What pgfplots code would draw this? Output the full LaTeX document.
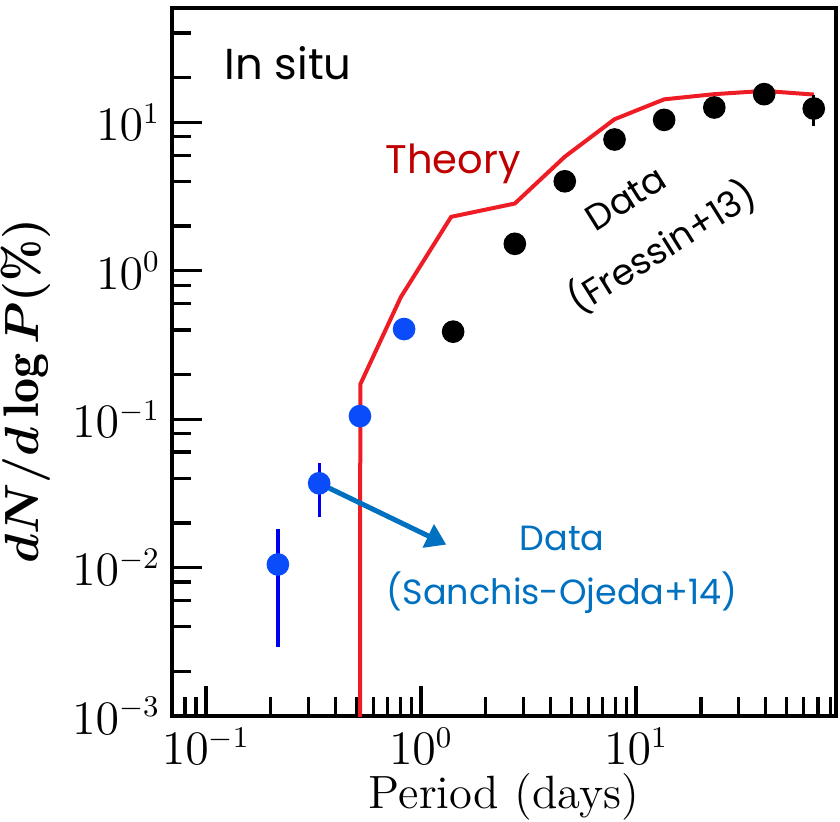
\documentclass[border=0pt]{standalone}
\usepackage{fontspec}
\newfontfamily\gothic{Poppins}
\usepackage{pgfplots}
\pgfplotsset{compat=1.18}
\usetikzlibrary{arrows.meta}
\definecolor{theoryred}{HTML}{EE1C25}
\definecolor{theorytext}{HTML}{C00000}
\definecolor{sanchisblue}{HTML}{0A4BFA}
\definecolor{errblue}{HTML}{0000F0}
\definecolor{notebblue}{HTML}{0070C0}

\begin{document}
\begin{tikzpicture}
\begin{axis}[
  scale only axis, width=199.2pt, height=212.4pt,
  xmode=log, ymode=log,
  xmin=0.0695, xmax=85, ymin=1e-3, ymax=59,
  xtick={0.1,1,10}, ytick={1e-3,1e-2,1e-1,1,10},
  minor xtick={0.07,0.08,0.09,0.2,0.3,0.4,0.5,0.6,0.7,0.8,0.9,2,3,4,5,6,7,8,9,20,30,40,50,60,70,80},
  minor ytick={2e-3,4e-3,6e-3,8e-3,2e-2,4e-2,6e-2,8e-2,0.2,0.4,0.6,0.8,2,4,6,8,20,40},
  tick pos=left,
  major tick length=9pt, minor tick length=5.7pt,
  tick style={black, line width=1pt},
  axis line style={line width=1.2pt},
  tick label style={font=\fontsize{13.5}{16}\selectfont},
  xlabel={Period (days)},
  xlabel style={font=\fontsize{14}{16}\selectfont, at={(axis description cs:0.5,-0.13)}, anchor=base},
  ylabel={$dN/d\log P(\%)$},
  ylabel style={font=\boldmath\fontsize{15}{18}\selectfont, at={(axis description cs:-0.221,0.459)}, anchor=center, rotate=0},
]
% theory curve
\addplot[theoryred, line width=1.2pt] coordinates {
  (0.52,0.0005) (0.522,0.172) (0.805,0.664) (1.38,2.31) (2.73,2.84) (4.66,5.87)
  (7.94,10.5) (13.5,14.3) (23.1,15.5) (39.4,16.3) (67,15.4)};
% Fressin+13
\addplot[only marks, mark=*, mark size=3.2pt, black,
  error bars/.cd, y dir=both, y explicit, error bar style={line width=1pt}, error mark=none]
  coordinates {
  (1.41,0.389) (2.73,1.52) (4.66,4.01) (7.94,7.67) (13.5,10.4) (23.1,12.6)
  (39.4,15.5) (67,12.4) +- (0,3.0)};
% Sanchis-Ojeda+14
\addplot[only marks, mark=*, mark size=3.2pt, sanchisblue,
  error bars/.cd, y dir=both, y explicit, error bar style={errblue, line width=1pt}, error mark=none]
  coordinates {
  (0.216,0.0105) +- (0,0.0076)
  (0.336,0.037) += (0,0.014) -= (0,0.015)
  (0.52,0.105) (0.834,0.405)};
\draw[notebblue, line width=1.5pt, -{Triangle[length=6pt,width=7.5pt]}]
  (axis cs:0.336,0.037) -- (axis cs:1.31,0.01429);
\node[font=\gothic\fontsize{13}{15}\selectfont] at (axis cs:0.241,25.0) {In situ};
\node[font=\gothic\fontsize{12}{14}\selectfont, text=theorytext] at (axis cs:1.41,5.28) {Theory};
\node[font=\gothic\fontsize{10.8}{14}\selectfont, rotate=32] at (axis cs:8.98,3.07) {Data};
\node[font=\gothic\fontsize{10.8}{14}\selectfont, rotate=32] at (axis cs:13.2,1.45) {(Fressin+13)};
\node[font=\gothic\fontsize{10.5}{16}\selectfont, text=notebblue, align=center] at (axis cs:4.53,0.00968) {Data\\(Sanchis-Ojeda+14)};
\end{axis}
\pgfresetboundingbox
\path[use as bounding box] ([xshift=-51.6pt,yshift=-31.8pt]current axis.south west) rectangle ([xshift=1.2pt,yshift=2.4pt]current axis.north east);
\end{tikzpicture}
\end{document}
